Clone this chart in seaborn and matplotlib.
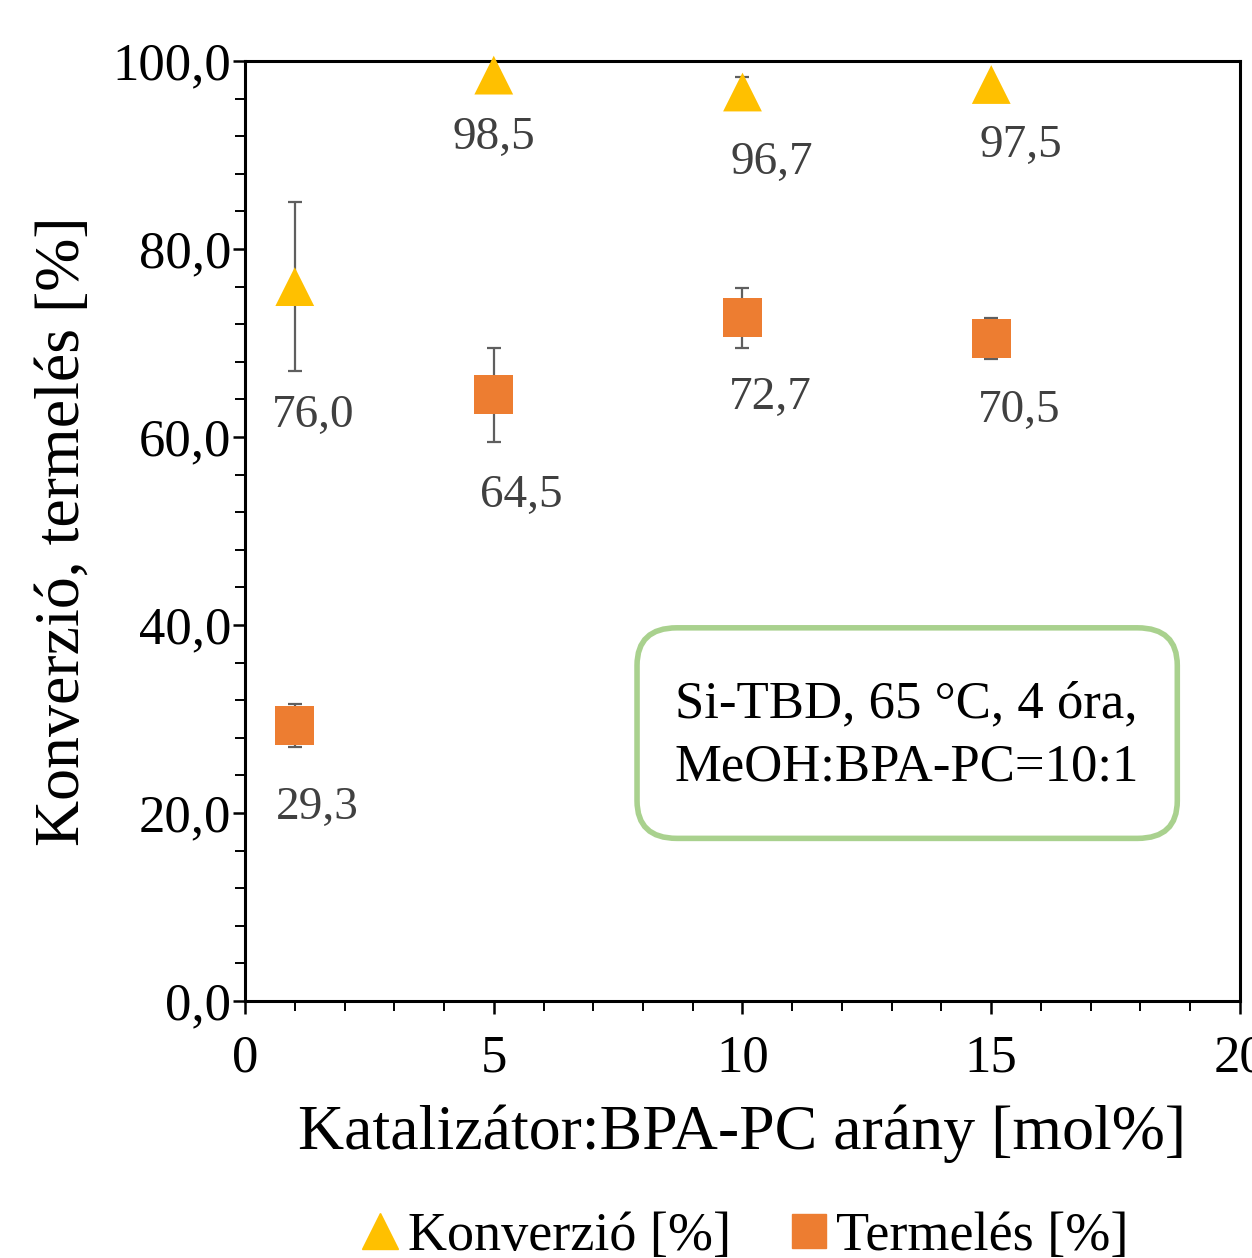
import pandas as pd
import matplotlib.pyplot as plt
import seaborn as sns
from matplotlib.ticker import MultipleLocator, FuncFormatter
from matplotlib.lines import Line2D
from matplotlib.patches import FancyBboxPatch

sns.set_style('white')
plt.rcParams['font.family'] = ['Liberation Serif', 'DejaVu Serif']

# data
catalyst = [1, 5, 10, 15]
conversion = [76.0, 98.5, 96.7, 97.5]
conversion_err = [9.0, 0.4, 1.6, 0.4]
yield_ = [29.3, 64.5, 72.7, 70.5]
yield_err = [2.3, 5.0, 3.2, 2.2]

conv_name = "Konverzió [%]"
yield_name = "Termelés [%]"

# label offsets (points) for the data labels below markers
conv_offsets = [(13, -93), (0, -45), (21, -51), (21, -44)]
yield_offsets = [(16, -59), (20, -73), (20, -58), (20, -52)]

df = pd.DataFrame({
    "x": catalyst * 2,
    "y": conversion + yield_,
    "err": conversion_err + yield_err,
    "series": [conv_name] * 4 + [yield_name] * 4,
})

fig = plt.figure(figsize=(12.52, 12.58), dpi=100)
ax = fig.add_axes([0.1957, 0.2043, 0.7947, 0.7472])

ax.errorbar(df["x"], df["y"], yerr=df["err"], fmt="none", ecolor="#5f5f5f",
            elinewidth=1.6, capsize=5, capthick=1.6, zorder=1, clip_on=False)

sns.scatterplot(data=df, x="x", y="y", hue="series", style="series",
                markers={conv_name: "^", yield_name: "s"},
                palette={conv_name: "#FFC000", yield_name: "#ED7D31"},
                s=780, edgecolor="none", linewidth=0, ax=ax, zorder=3,
                legend=False, clip_on=False)

for xv, yv, off in zip(catalyst, conversion, conv_offsets):
    ax.annotate(f"{yv:.1f}".replace(".", ","), (xv, yv), xytext=off,
                textcoords="offset points", ha="center", va="center",
                fontsize=34, color="#404040")
for xv, yv, off in zip(catalyst, yield_, yield_offsets):
    ax.annotate(f"{yv:.1f}".replace(".", ","), (xv, yv), xytext=off,
                textcoords="offset points", ha="center", va="center",
                fontsize=34, color="#404040")

ax.set_xlim(0, 20)
ax.set_ylim(0, 100)
ax.xaxis.set_major_locator(MultipleLocator(5))
ax.xaxis.set_minor_locator(MultipleLocator(1))
ax.yaxis.set_major_locator(MultipleLocator(20))
ax.yaxis.set_minor_locator(MultipleLocator(4))
ax.yaxis.set_major_formatter(FuncFormatter(lambda v, p: f"{v:.1f}".replace(".", ",")))

ax.tick_params(axis="both", which="both", bottom=True, left=True, top=False, right=False)
ax.tick_params(axis="both", which="major", direction="out", length=9, width=1.8,
               labelsize=38, color="black", labelcolor="black")
ax.tick_params(axis="both", which="minor", direction="out", length=7, width=1.4,
               color="black")
ax.tick_params(axis="x", pad=15)
ax.tick_params(axis="y", pad=1)
for s in ax.spines.values():
    s.set_color("black")
    s.set_linewidth(2.2)

ax.set_xlabel("Katalizátor:BPA-PC arány [mol%]", fontsize=46, labelpad=16, color="black")
ax.set_ylabel("Konverzió, termelés [%]", fontsize=46, labelpad=14, color="black")

box = FancyBboxPatch((0.394, 0.173), 0.543, 0.224, transform=ax.transAxes,
                     boxstyle="round,pad=0,rounding_size=0.04",
                     facecolor="white", edgecolor="#A9D18E", linewidth=4, zorder=2)
ax.add_patch(box)
ax.text(0.665, 0.282, "Si-TBD, 65 °C, 4 óra,\nMeOH:BPA-PC=10:1", transform=ax.transAxes,
        ha="center", va="center", fontsize=38, linespacing=1.4, zorder=4, color="black")

handles = [
    Line2D([], [], marker="^", color="#FFC000", linestyle="none", markersize=26),
    Line2D([], [], marker="s", color="#ED7D31", linestyle="none", markersize=24),
]
fig.legend(handles, [conv_name, yield_name], loc="center", bbox_to_anchor=(0.593, 0.017),
           ncol=2, frameon=False, fontsize=39, handletextpad=0.05, columnspacing=1.0,
           handlelength=0.9, labelcolor="black")

fig.savefig("out.png", dpi=100)
